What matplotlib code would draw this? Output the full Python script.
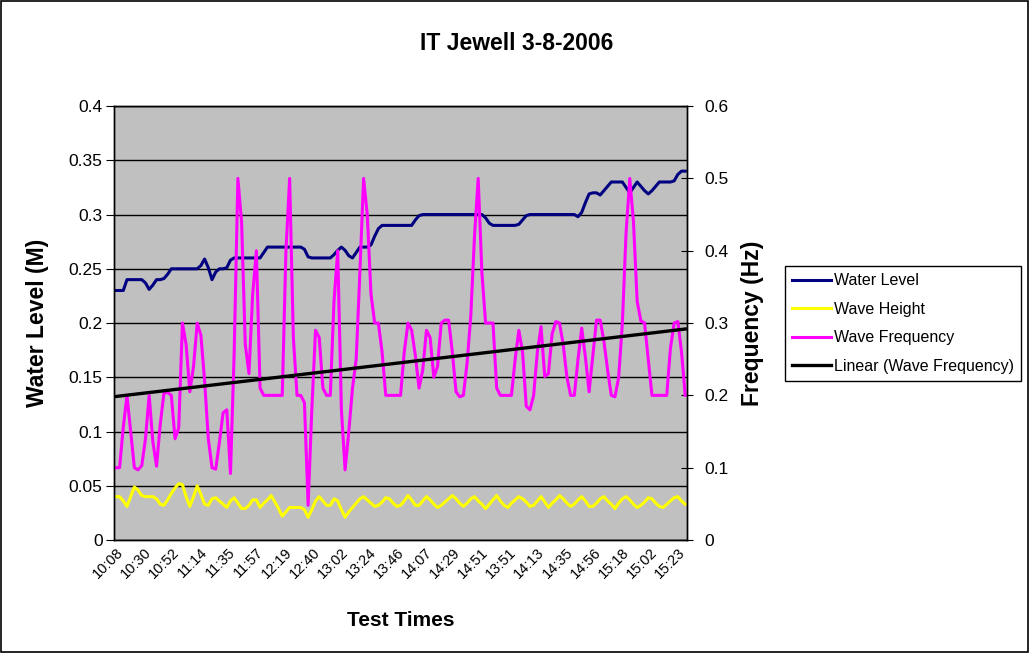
import matplotlib
matplotlib.use("Agg")
import matplotlib.pyplot as plt
import numpy as np
from matplotlib.patches import Rectangle

plt.rcParams["font.family"] = ["Liberation Sans", "DejaVu Sans"]

TIME_LABELS = [
    "10:08", "10:30", "10:52", "11:14", "11:35", "11:57", "12:19", "12:40",
    "13:02", "13:24", "13:46", "14:07", "14:29", "14:51", "13:51", "14:13",
    "14:35", "14:56", "15:18", "15:02", "15:23",
]
# labels every ~7.6 samples (Excel skipped categories between labels)
LABEL_STEP = 7.6

# water level (M), left axis
water_level = [
    0.23, 0.23, 0.23, 0.24, 0.24, 0.24, 0.24, 0.24, 0.237, 0.231,
    0.235, 0.24, 0.24, 0.241, 0.245, 0.25, 0.25, 0.25, 0.25, 0.25,
    0.25, 0.25, 0.25, 0.253, 0.259, 0.251, 0.24, 0.247, 0.25, 0.25,
    0.251, 0.258, 0.26, 0.26, 0.26, 0.26, 0.26, 0.26, 0.26, 0.26,
    0.265, 0.27, 0.27, 0.27, 0.27, 0.27, 0.27, 0.27, 0.27, 0.27,
    0.27, 0.268, 0.261, 0.26, 0.26, 0.26, 0.26, 0.26, 0.26, 0.263,
    0.267, 0.27, 0.267, 0.262, 0.26, 0.265, 0.27, 0.27, 0.27, 0.272,
    0.28, 0.287, 0.29, 0.29, 0.29, 0.29, 0.29, 0.29, 0.29, 0.29,
    0.29, 0.295, 0.299, 0.30, 0.30, 0.30, 0.30, 0.30, 0.30, 0.30,
    0.30, 0.30, 0.30, 0.30, 0.30, 0.30, 0.30, 0.30, 0.30, 0.30,
    0.297, 0.292, 0.29, 0.29, 0.29, 0.29, 0.29, 0.29, 0.29, 0.291,
    0.295, 0.299, 0.30, 0.30, 0.30, 0.30, 0.30, 0.30, 0.30, 0.30,
    0.30, 0.30, 0.30, 0.30, 0.30, 0.298, 0.302, 0.311, 0.319, 0.32,
    0.32, 0.318, 0.322, 0.326, 0.33, 0.33, 0.33, 0.33, 0.325, 0.32,
    0.325, 0.33, 0.326, 0.322, 0.319, 0.322, 0.326, 0.33, 0.33, 0.33,
    0.33, 0.331, 0.337, 0.34, 0.34,
]

# wave height (M), left axis
wave_height = [
    0.040, 0.040, 0.036, 0.031, 0.040, 0.049, 0.046, 0.041, 0.040, 0.040,
    0.040, 0.038, 0.033, 0.032, 0.037, 0.043, 0.048, 0.052, 0.051, 0.040,
    0.031, 0.040, 0.050, 0.042, 0.033, 0.032, 0.038, 0.039, 0.036, 0.033,
    0.030, 0.036, 0.039, 0.034, 0.029, 0.029, 0.032, 0.037, 0.037, 0.030,
    0.034, 0.037, 0.041, 0.035, 0.029, 0.022, 0.026, 0.030, 0.030, 0.030,
    0.030, 0.028, 0.021, 0.028, 0.036, 0.040, 0.036, 0.032, 0.032, 0.038,
    0.036, 0.028, 0.021, 0.026, 0.030, 0.034, 0.038, 0.040, 0.037, 0.034,
    0.031, 0.032, 0.035, 0.039, 0.038, 0.034, 0.031, 0.032, 0.036, 0.041,
    0.037, 0.032, 0.032, 0.036, 0.040, 0.037, 0.033, 0.030, 0.032, 0.035,
    0.038, 0.041, 0.038, 0.034, 0.031, 0.034, 0.038, 0.040, 0.036, 0.033,
    0.029, 0.033, 0.037, 0.041, 0.036, 0.032, 0.030, 0.034, 0.037, 0.040,
    0.038, 0.035, 0.031, 0.032, 0.036, 0.040, 0.035, 0.030, 0.034, 0.037,
    0.041, 0.038, 0.034, 0.031, 0.033, 0.037, 0.040, 0.036, 0.031, 0.031,
    0.034, 0.038, 0.040, 0.036, 0.033, 0.029, 0.034, 0.038, 0.040, 0.037,
    0.033, 0.030, 0.032, 0.035, 0.039, 0.038, 0.034, 0.031, 0.030, 0.033,
    0.036, 0.039, 0.040, 0.036, 0.033,
]

# wave frequency (Hz), right axis
wave_freq = [
    0.10, 0.10, 0.156, 0.20, 0.15, 0.10, 0.097, 0.103, 0.14, 0.20,
    0.136, 0.102, 0.16, 0.203, 0.204, 0.20, 0.14, 0.155, 0.30, 0.27,
    0.205, 0.24, 0.30, 0.283, 0.22, 0.14, 0.10, 0.098, 0.135, 0.176,
    0.18, 0.092, 0.26, 0.50, 0.44, 0.27, 0.23, 0.34, 0.40, 0.21,
    0.20, 0.20, 0.20, 0.20, 0.20, 0.20, 0.40, 0.50, 0.28, 0.20,
    0.20, 0.19, 0.048, 0.18, 0.29, 0.28, 0.21, 0.20, 0.20, 0.33,
    0.40, 0.18, 0.097, 0.15, 0.21, 0.25, 0.37, 0.50, 0.45, 0.34,
    0.30, 0.30, 0.26, 0.20, 0.20, 0.20, 0.20, 0.20, 0.26, 0.30,
    0.29, 0.255, 0.21, 0.235, 0.29, 0.28, 0.225, 0.24, 0.30, 0.304,
    0.304, 0.26, 0.205, 0.198, 0.20, 0.245, 0.31, 0.42, 0.50, 0.37,
    0.30, 0.30, 0.30, 0.21, 0.20, 0.20, 0.20, 0.20, 0.25, 0.29,
    0.26, 0.185, 0.18, 0.20, 0.26, 0.295, 0.226, 0.23, 0.285, 0.302,
    0.30, 0.27, 0.225, 0.20, 0.20, 0.25, 0.293, 0.253, 0.205, 0.255,
    0.304, 0.304, 0.275, 0.235, 0.20, 0.198, 0.225, 0.30, 0.425, 0.50,
    0.44, 0.33, 0.303, 0.30, 0.25, 0.20, 0.20, 0.20, 0.20, 0.20,
    0.265, 0.30, 0.302, 0.26, 0.20,
]

x = np.arange(len(water_level))
slope, intercept = np.polyfit(x, wave_freq, 1)
trend = slope * x + intercept

fig = plt.figure(figsize=(10.3, 6.53), dpi=100)
fig.patches.append(Rectangle((0.001, 0.002), 0.997, 0.996, transform=fig.transFigure,
                             fill=False, edgecolor="black", linewidth=1.2))

ax = fig.add_axes([0.1110, 0.1730, 0.5557, 0.6646])
ax.set_facecolor("#c0c0c0")
ax2 = ax.twinx()

ax.plot(x, water_level, color="#000080", lw=2.2, solid_joinstyle="round", label="Water Level")
ax.plot(x, wave_height, color="#ffff00", lw=2.2, solid_joinstyle="round", label="Wave Height")
ax2.plot(x, wave_freq, color="#ff00ff", lw=2.2, solid_joinstyle="round", label="Wave Frequency")
ax2.plot(x, trend, color="black", lw=2.4, label="Linear (Wave Frequency)")

ax.set_xlim(-0.42, 154.4)
ax.set_ylim(0, 0.4)
ax2.set_ylim(0, 0.6)

yt = np.arange(0, 0.401, 0.05)
ax.set_yticks(yt)
ax.set_yticklabels([f"{v:g}" for v in np.round(yt, 2)])
yt2 = np.arange(0, 0.601, 0.1)
ax2.set_yticks(yt2)
ax2.set_yticklabels([f"{v:g}" for v in np.round(yt2, 1)])

ax.grid(axis="y", color="black", linewidth=1)
ax.set_axisbelow(True)

ax.set_xticks(np.arange(len(TIME_LABELS)) * LABEL_STEP)
ax.set_xticklabels(TIME_LABELS, rotation=45, ha="right", rotation_mode="anchor")
ax.tick_params(axis="x", length=0, labelsize=10.5, pad=4)
ax.tick_params(axis="y", direction="out", length=6, labelsize=12.5, pad=2.5)
ax2.tick_params(axis="y", direction="inout", length=9, labelsize=12.5, pad=8)

for a in (ax, ax2):
    for s in a.spines.values():
        s.set_color("black")
        s.set_linewidth(1)

fig.text(517 / 1030, 1 - 43 / 653, "IT Jewell 3-8-2006", ha="center", va="center",
         fontsize=16.5, fontweight="bold")
fig.text(38 / 1030, 1 - 323 / 653, "Water Level (M)", rotation=90, ha="center", va="center",
         fontsize=16.5, fontweight="bold")
fig.text(752 / 1030, 1 - 323 / 653, "Frequency (Hz)", rotation=90, ha="center", va="center",
         fontsize=16.5, fontweight="bold")
fig.text(401 / 1030, 1 - 621 / 653, "Test Times", ha="center", va="center",
         fontsize=15, fontweight="bold")

h1, l1 = ax.get_legend_handles_labels()
h2, l2 = ax2.get_legend_handles_labels()
leg = fig.legend(h1 + h2, l1 + l2, loc="upper left", bbox_to_anchor=(785 / 1030, 1 - 266 / 653),
                 fontsize=11.5, frameon=True, fancybox=False, edgecolor="black", framealpha=1,
                 handlelength=2.4, handletextpad=0.2, labelspacing=0.85, borderpad=0.45,
                 borderaxespad=0)
leg.get_frame().set_linewidth(1)

fig.savefig("out.png", dpi=100)
